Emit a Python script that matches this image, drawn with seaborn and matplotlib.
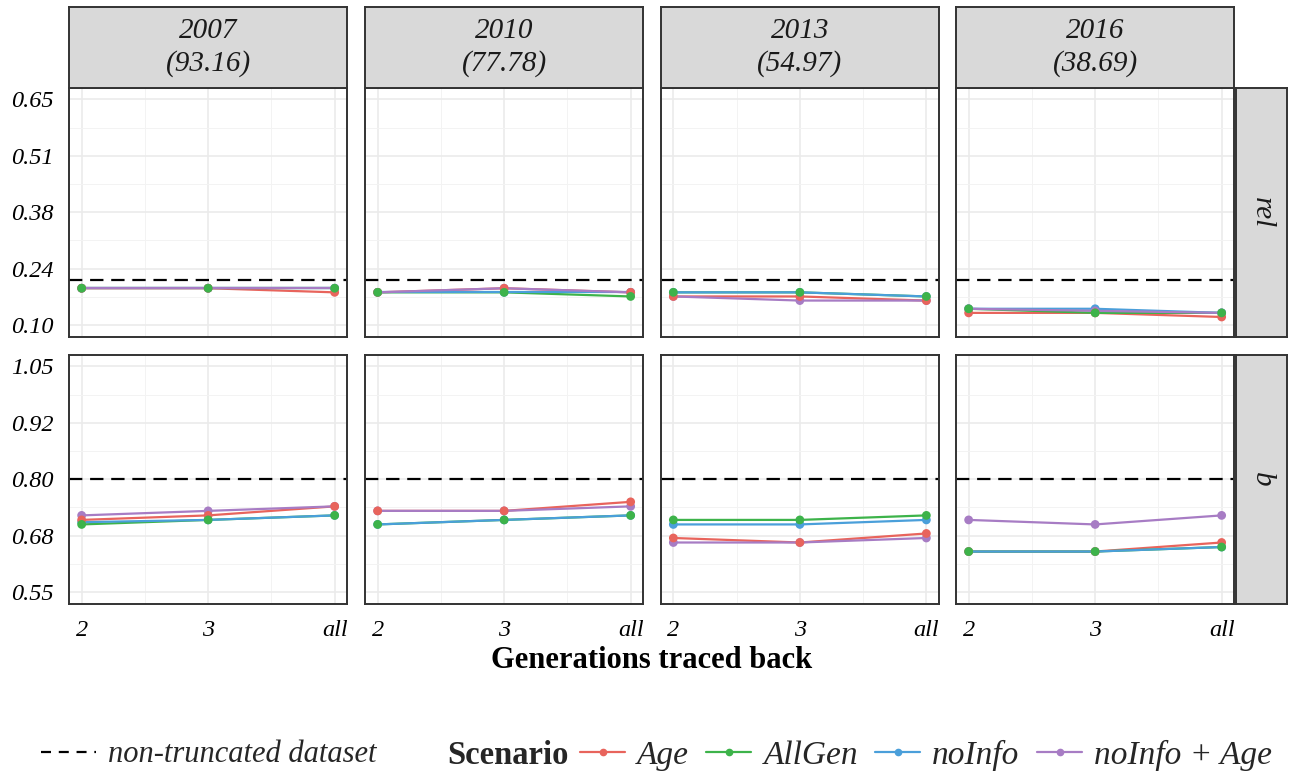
import numpy as np
import pandas as pd
import matplotlib
matplotlib.use("Agg")
import matplotlib.pyplot as plt
from matplotlib.lines import Line2D
from matplotlib.ticker import FixedLocator
import seaborn as sns

sns.set_theme(style="white")
plt.rcParams['font.family'] = ['Liberation Serif', 'DejaVu Serif']

# ---------------- data ----------------
years = ["2007", "2010", "2013", "2016"]
year_values = ["93.16", "77.78", "54.97", "38.69"]
metrics = ["rel", "b"]
scenarios = ["Age", "AllGen", "noInfo", "noInfo + Age"]
gen_pos = [2, 3, 4]
gen_labels = ["2", "3", "all"]

rel_age = [[0.19, 0.19, 0.18], [0.18, 0.19, 0.18], [0.17, 0.17, 0.16], [0.13, 0.13, 0.12]]
rel_allgen = [[0.19, 0.19, 0.19], [0.18, 0.18, 0.17], [0.18, 0.18, 0.17], [0.14, 0.13, 0.13]]
rel_noinfo = [[0.19, 0.19, 0.19], [0.18, 0.18, 0.18], [0.18, 0.18, 0.17], [0.14, 0.14, 0.13]]
rel_noinfo_age = [[0.19, 0.19, 0.19], [0.18, 0.19, 0.18], [0.17, 0.16, 0.16], [0.14, 0.135, 0.13]]

b_age = [[0.71, 0.72, 0.74], [0.73, 0.73, 0.75], [0.67, 0.66, 0.68], [0.64, 0.64, 0.66]]
b_allgen = [[0.70, 0.71, 0.72], [0.70, 0.71, 0.72], [0.71, 0.71, 0.72], [0.64, 0.64, 0.65]]
b_noinfo = [[0.705, 0.71, 0.72], [0.70, 0.71, 0.72], [0.70, 0.70, 0.71], [0.64, 0.64, 0.65]]
b_noinfo_age = [[0.72, 0.73, 0.74], [0.73, 0.73, 0.74], [0.66, 0.66, 0.67], [0.71, 0.70, 0.72]]

ref_values = {"rel": 0.21, "b": 0.80}

y_ticks = {"rel": [0.10, 0.2375, 0.375, 0.5125, 0.65], "b": [0.55, 0.675, 0.80, 0.925, 1.05]}
y_tick_labels = {"rel": ["0.10", "0.24", "0.38", "0.51", "0.65"],
                 "b": ["0.55", "0.68", "0.80", "0.92", "1.05"]}

values = {
    "rel": {"Age": rel_age, "AllGen": rel_allgen, "noInfo": rel_noinfo, "noInfo + Age": rel_noinfo_age},
    "b": {"Age": b_age, "AllGen": b_allgen, "noInfo": b_noinfo, "noInfo + Age": b_noinfo_age},
}

rows = []
for m in metrics:
    for s in scenarios:
        for yi, yr in enumerate(years):
            for gi, g in enumerate(gen_pos):
                rows.append({"metric": m, "scenario": s, "year": yr, "gen": g,
                             "value": values[m][s][yi][gi]})
df = pd.DataFrame(rows)

palette = {"Age": "#E8645C", "AllGen": "#3DB34A", "noInfo": "#4A9FDA", "noInfo + Age": "#A77CC4"}
point_order = ["noInfo", "noInfo + Age", "Age", "AllGen"]

# ---------------- layout ----------------
W, H = 1291, 772
fig = plt.figure(figsize=(W / 100, H / 100), dpi=100)

col_left = [69, 365, 660.7, 956]
pw = 278.3
row_top = [88, 355]
ph = 248.5

def rect(x0, y0, w, h):
    return [x0 / W, 1 - (y0 + h) / H, w / W, h / H]

edge = "#333333"
tick_font = dict(family="Liberation Serif", style="italic", size=17.5, color="black")

for r, m in enumerate(metrics):
    ylo, yhi = y_ticks[m][0], y_ticks[m][-1]
    ex = (yhi - ylo) * 0.05
    for c, yr in enumerate(years):
        ax = fig.add_axes(rect(col_left[c], row_top[r], pw, ph))
        sub = df[(df.metric == m) & (df.year == yr)]
        ax.axhline(ref_values[m], color="black", lw=1.6, ls=(0, (6, 3.5)), zorder=1)
        sns.lineplot(data=sub, x="gen", y="value", hue="scenario", hue_order=scenarios,
                     palette=palette, lw=1.6, legend=False, ax=ax, zorder=2)
        pts = sub.copy()
        pts["ord"] = pts.scenario.map({s: i for i, s in enumerate(point_order)})
        pts = pts.sort_values("ord")
        sns.scatterplot(data=pts, x="gen", y="value", hue="scenario", palette=palette,
                        s=40, linewidth=0, legend=False, ax=ax, zorder=3)
        ax.set_xlim(1.9, 4.1)
        ax.set_ylim(ylo - ex, yhi + ex)
        ax.set_xticks(gen_pos)
        ax.set_yticks(y_ticks[m])
        ax.xaxis.set_minor_locator(FixedLocator([2.5, 3.5]))
        yt = y_ticks[m]
        ax.yaxis.set_minor_locator(FixedLocator([(yt[i] + yt[i + 1]) / 2 for i in range(4)]))
        ax.grid(which="major", color="#EBEBEB", lw=1.2, zorder=0)
        ax.grid(which="minor", color="#F3F3F3", lw=0.7, zorder=0)
        ax.set_axisbelow(True)
        ax.set_xlabel("")
        ax.set_ylabel("")
        for sp in ax.spines.values():
            sp.set_color(edge)
            sp.set_linewidth(1.4)
            sp.set_visible(True)
        ax.tick_params(which="minor", length=0)
        if c == 0:
            ax.set_yticklabels(y_tick_labels[m], fontdict=tick_font)
            ax.tick_params(axis="y", which="major", length=7, width=1.5, color=edge, pad=4)
        else:
            ax.tick_params(axis="y", which="major", length=0, labelleft=False)
        if r == 1:
            ax.set_xticklabels(gen_labels, fontdict=tick_font)
            ax.tick_params(axis="x", which="major", length=7, width=1.5, color=edge, pad=5)
        else:
            ax.tick_params(axis="x", which="major", length=0, labelbottom=False)

# top strips
for c, yr in enumerate(years):
    sax = fig.add_axes(rect(col_left[c], 7, pw, 81))
    sax.set_facecolor("#D9D9D9")
    sax.set_xticks([]); sax.set_yticks([])
    for sp in sax.spines.values():
        sp.set_color(edge); sp.set_linewidth(1.4)
    sax.text(0.5, 0.5, f"{yr}\n({year_values[c]})", ha="center", va="center",
             transform=sax.transAxes, fontsize=21, style="italic", color="#1A1A1A",
             linespacing=1.3)

# right strips
for r, m in enumerate(metrics):
    sax = fig.add_axes(rect(1236, row_top[r], 51, ph))
    sax.set_facecolor("#D9D9D9")
    sax.set_xticks([]); sax.set_yticks([])
    for sp in sax.spines.values():
        sp.set_color(edge); sp.set_linewidth(1.4)
    sax.text(0.5, 0.5, m, ha="center", va="center", rotation=-90,
             transform=sax.transAxes, fontsize=21, style="italic", color="#1A1A1A")

# axis title
fig.text(651.5 / W, 1 - 661 / H, "Generations traced back", ha="center", va="center",
         fontsize=22, fontweight="bold", color="black")

# legends
ly = 1 - 755 / H
h_ref = [Line2D([], [], color="black", lw=1.6, ls=(0, (4.5, 3.5)))]
leg1 = fig.legend(h_ref, ["non-truncated dataset"], loc="center left",
                  bbox_to_anchor=(13 / W, ly), frameon=False, handlelength=1.8,
                  handletextpad=0.4, prop=dict(size=22, style="italic"))
fig.text(447 / W, ly, "Scenario", ha="left", va="center", fontsize=23.5, fontweight="bold")
h_sc = [Line2D([], [], color=palette[s], lw=1.6, marker="o", markersize=4.5) for s in scenarios]
leg2 = fig.legend(h_sc, scenarios, loc="center left", bbox_to_anchor=(550 / W, ly),
                  ncol=4, frameon=False, handlelength=1.35, handletextpad=0.36,
                  columnspacing=0.52, prop=dict(size=24, style="italic"))

fig.savefig("out.png", dpi=100)
